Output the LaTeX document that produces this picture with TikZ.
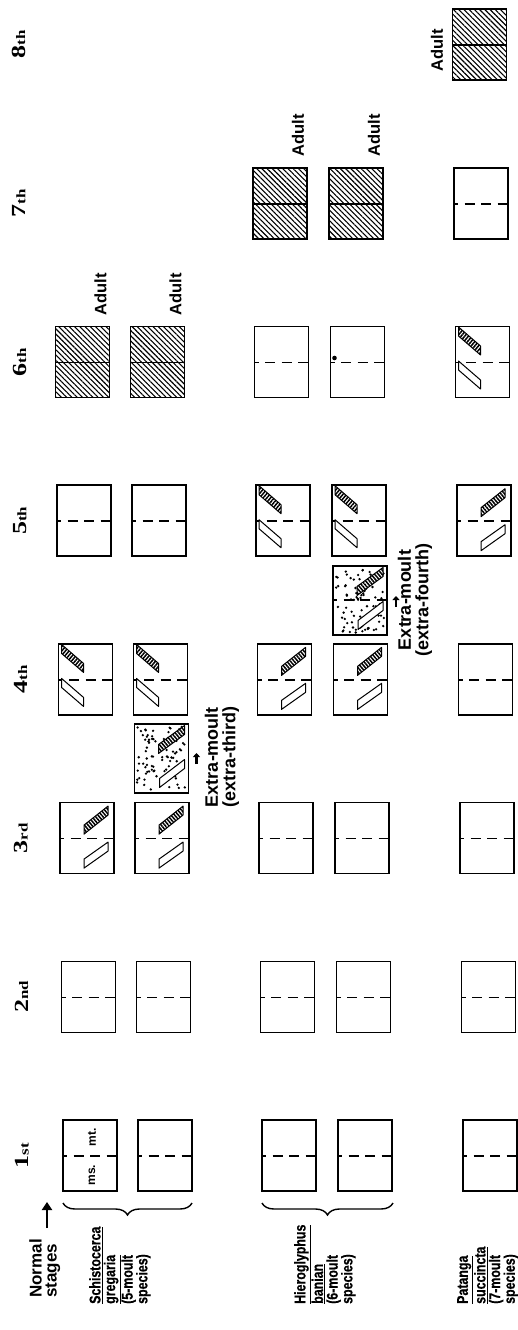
\documentclass[tikz,border=0pt]{standalone}
\usepackage{fontspec}
\setmainfont{Liberation Sans}
\newfontfamily\stagefont[FakeStretch=1.3]{Liberation Serif}
\newfontfamily\condfont[FakeStretch=0.8,FakeBold=0.6]{Liberation Sans}
\usetikzlibrary{patterns.meta,decorations.pathreplacing,arrows.meta}
\tikzset{
  boxline/.style={line width=1.6pt},
  midline/.style={line width=1.5pt,dash pattern=on 10pt off 6.5pt,dash phase=6pt},
  padline/.style={line width=1pt,line join=round},
  hatchA/.style={padline,preaction={fill=white},pattern={Lines[angle=-50,distance=2.8pt,line width=1.5pt]}},
  hatchB/.style={padline,preaction={fill=white},pattern={Lines[angle=50,distance=2.8pt,line width=1.5pt]}},
  openpad/.style={padline,fill=white},
  adulthatch/.style={pattern={Lines[angle=-45,distance=3.7pt,line width=1.1pt]}},
  lbl/.style={rotate=90,inner sep=0pt,font=\condfont\bfseries\fontsize{15.5}{14.7}\selectfont},
  normlbl/.style={rotate=90,inner sep=0pt,font=\bfseries\fontsize{17}{15}\selectfont},
  biglbl/.style={rotate=90,inner sep=0pt,font=\bfseries\fontsize{16.5}{17.5}\selectfont},
  extralbl/.style={rotate=90,inner sep=0pt,align=center,font=\bfseries\fontsize{18}{17.5}\selectfont},
  smalllbl/.style={rotate=90,inner sep=0pt,font=\bfseries\fontsize{12}{12}\selectfont},
  stagelbl/.style={rotate=90,inner sep=0pt,font=\stagefont\bfseries},
  bracestyle/.style={decorate,decoration={brace,amplitude=12pt},line width=1.4pt},
  bigarrow/.style={line width=2.4pt,-{Triangle[length=8pt,width=10pt]}},
  smallarrow/.style={line width=2.2pt,-{Triangle[length=4pt,width=7pt]}},
}
\newcommand\plainbox[2]{%
  \draw[boxline] (#1,#2) rectangle ++(54,71);
  \draw[midline] (#1,#2+36) -- ++(54,0);}
\newcommand\adultbox[2]{%
  \draw[boxline,adulthatch] (#1,#2) rectangle ++(54,71);
  \draw[line width=1.5pt] (#1,#2+36) -- ++(54,0);}
\newcommand\padsA[2]{%
  \begin{scope}[shift={(#1,#2)}]
  \draw[hatchA] (24,22.5) -- (48,3.5) -- (48,12.5) -- (24,31.5) -- cycle;
  \draw[openpad] (24,56.5) -- (48,39.5) -- (48,48.5) -- (24,65.5) -- cycle;
  \end{scope}}
\newcommand\padsB[2]{%
  \begin{scope}[shift={(#1,#2)}]
  \draw[hatchB] (3,0.5) -- (25,19.5) -- (25,28.5) -- (3,9.5) -- cycle;
  \draw[openpad] (3,34.5) -- (25,53.5) -- (25,62.5) -- (3,43.5) -- cycle;
  \end{scope}}
\newcommand\padsX[2]{%
  \begin{scope}[shift={(#1,#2)}]
  \draw[hatchA] (24,20.5) -- (50,1.5) -- (50,10.5) -- (24,29.5) -- cycle;
  \draw[openpad] (25,54.5) -- (50,35.5) -- (50,44.5) -- (25,63.5) -- cycle;
  \end{scope}}
\newcommand\stipplebox[3]{%
  \begin{scope}[shift={(#1,#2)}]
  \pgfmathsetseed{#3}
  \foreach \i in {1,...,85}{%
    \pgfmathsetmacro\px{2.5+49*rnd}\pgfmathsetmacro\py{2.5+64*rnd}
    \fill (\px,\py) circle (1.3pt);}
  \draw[boxline] (0,0) rectangle (54,69);
  \end{scope}}
\newcommand\stg[2]{{\fontsize{20}{20}\selectfont #1}{\fontsize{13}{13}\selectfont #2}}
\begin{document}
\begin{tikzpicture}[x=1pt,y=-1pt]
\useasboundingbox (0,0) rectangle (518,1330);
% stage labels
\node[stagelbl] (st1) at (22,1155.5) {\stg{1}{st}};
\node[stagelbl] (st2) at (21.5,996.8) {\stg{2}{nd}};
\node[stagelbl] (st3) at (21,838.1) {\stg{3}{rd}};
\node[stagelbl] (st4) at (20.5,679.4) {\stg{4}{th}};
\node[stagelbl] (st5) at (20,520.7) {\stg{5}{th}};
\node[stagelbl] (st6) at (19.5,362) {\stg{6}{th}};
\node[stagelbl] (st7) at (19,203.3) {\stg{7}{th}};
\node[stagelbl] (st8) at (18.5,44.6) {\stg{8}{th}};
% row 1 : Schistocerca
\plainbox{63}{1120}
\node[smalllbl] (ms) at (92,1175) {ms.};
\node[smalllbl] (mt) at (92,1137) {mt.};
\plainbox{61.5}{961.3}
\plainbox{60}{802.6}\padsA{60}{802.6}
\plainbox{58.5}{643.9}\padsB{58.5}{643.9}
\plainbox{57}{485.2}
\adultbox{55.5}{326.5}
% row 2
\plainbox{138}{1120}
\plainbox{136.5}{961.3}
\plainbox{135}{802.6}\padsA{135}{802.6}
\stipplebox{134.5}{724}{11}\padsX{134.5}{724}
\plainbox{133.5}{643.9}\padsB{133.5}{643.9}
\plainbox{132}{485.2}
\adultbox{130.5}{326.5}
% row 3 : Hieroglyphus
\plainbox{262}{1120}
\plainbox{260.5}{961.3}
\plainbox{259}{802.6}
\plainbox{257.5}{643.9}\padsA{257.5}{643.9}
\plainbox{256}{485.2}\padsB{256}{485.2}
\plainbox{254.5}{326.5}
\adultbox{253}{167.8}
% row 4
\plainbox{338}{1120}
\plainbox{336.5}{961.3}
\plainbox{335}{802.6}
\plainbox{333.5}{643.9}\padsA{333.5}{643.9}
\stipplebox{333}{566}{29}
\draw[midline] (333,600) -- ++(54,0);
\padsX{333}{566}
\plainbox{332}{485.2}\padsB{332}{485.2}
\plainbox{330.5}{326.5}
\fill (334.5,358) circle (2.3pt);
\adultbox{329}{167.8}
% row 5 : Patanga
\plainbox{463}{1120}
\plainbox{461.5}{961.3}
\plainbox{460}{802.6}
\plainbox{458.5}{643.9}
\plainbox{457}{485.2}\padsA{457}{485.2}
\plainbox{455.5}{326.5}\padsB{455.5}{326.5}
\plainbox{454}{167.8}
\adultbox{452.5}{9.1}
% adult labels
\node[biglbl] (ad1) at (100.5,294) {Adult};
\node[biglbl] (ad2) at (175.5,294) {Adult};
\node[biglbl] (ad3) at (298,135) {Adult};
\node[biglbl] (ad4) at (374,135) {Adult};
\node[biglbl] (ad5) at (437,50) {Adult};
% extra moult labels
\node[extralbl] (ex3) at (222,757) {Extra-moult\\(extra-third)};
\coordinate (ex3a) at (196.5,764);
\coordinate (ex3b) at (196.5,753);
\draw[smallarrow] (ex3a) -- (ex3b);
\node[extralbl] (ex4) at (415,600) {Extra-moult\\(extra-fourth)};
\coordinate (ex4a) at (396,607);
\coordinate (ex4b) at (396,596);
\draw[smallarrow] (ex4a) -- (ex4b);
% normal stages
\node[normlbl,anchor=north west,align=left] (normal) at (29,1298) {Normal\\stages};
\coordinate (arrbase) at (47,1228);
\coordinate (arrtip) at (47,1202);
\draw[bigarrow] (arrbase) -- (arrtip);
% braces
\coordinate (b1r) at (192,1203); \coordinate (b1l) at (63,1203);
\draw[bracestyle] (b1r) -- (b1l);
\coordinate (b2r) at (393,1203); \coordinate (b2l) at (262,1203);
\draw[bracestyle] (b2r) -- (b2l);
% species labels
\node[lbl,anchor=north west,align=left] (sg) at (89,1304) {\underline{Schistocerca}\\\underline{gregaria}\\(5-moult\\species)};
\node[lbl,anchor=north west,align=left] (hb) at (294,1304) {\underline{Hieroglyphus}\\\underline{banian}\\(6-moult\\species)};
\node[lbl,anchor=north west,align=left] (ps) at (457,1304) {\underline{Patanga}\\\underline{succincta}\\(7-moult\\species)};
\end{tikzpicture}
\end{document}
